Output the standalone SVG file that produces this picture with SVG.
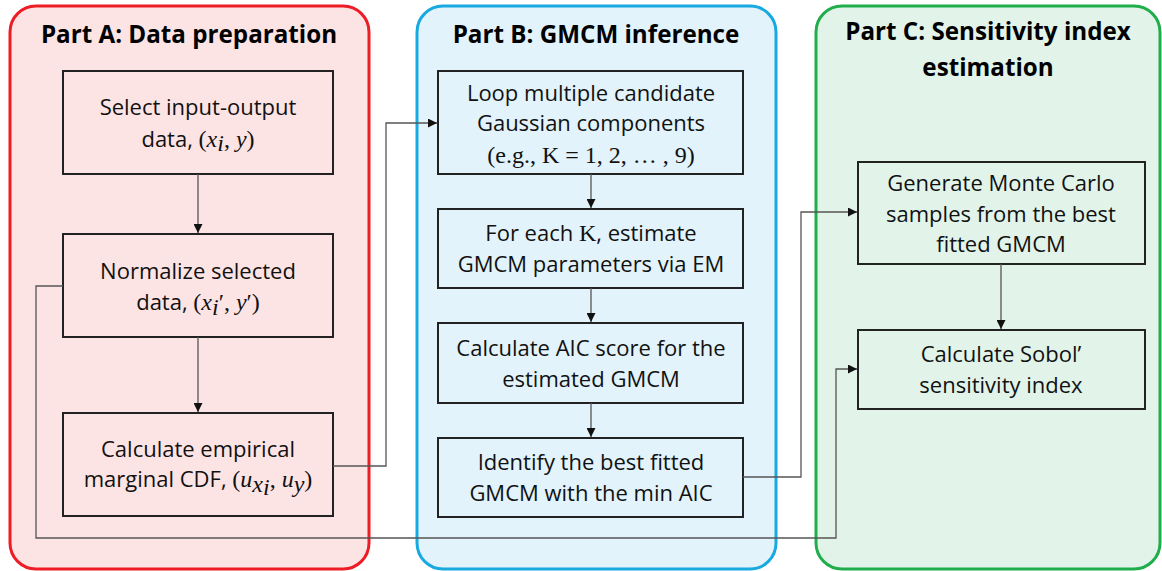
<svg xmlns="http://www.w3.org/2000/svg" width="1162" height="571" viewBox="0 0 1162 571">
<style>
.title{font-family:"Open Sans","Liberation Sans",sans-serif;font-weight:bold;font-size:24.2px;fill:#000;text-anchor:middle}
.lbl{font-family:"Open Sans","Liberation Sans",sans-serif;font-size:22px;fill:#111;text-anchor:middle}
.m{font-family:"Liberation Serif","DejaVu Serif",serif;font-size:24px}
.mi{font-family:"Liberation Serif","DejaVu Serif",serif;font-style:italic;font-size:24px}
.box{stroke:#222;stroke-width:2}
.conn{fill:none;stroke:#555;stroke-width:1.3}
</style>
<defs>
<marker id="ah" viewBox="0 0 10 10" refX="10" refY="5" markerWidth="9" markerHeight="9" markerUnits="userSpaceOnUse" orient="auto">
<path d="M0,0 L10,5 L0,10 Z" fill="#111"/>
</marker>
</defs>

<g id="partA">
<rect x="10" y="6" width="359" height="563" rx="26" fill="#fde4e4" stroke="#ee1c25" stroke-width="3"/>
<text class="title" x="189" y="43">Part A: Data preparation</text>
</g>
<g id="partB">
<rect x="417" y="6" width="359" height="563" rx="26" fill="#e2f3fb" stroke="#18a9e1" stroke-width="3"/>
<text class="title" x="596" y="43">Part B: GMCM inference</text>
</g>
<g id="partC">
<rect x="816" y="6" width="344" height="563" rx="26" fill="#e2f4ea" stroke="#1fae4b" stroke-width="3"/>
<text class="title" x="988" y="40">Part C: Sensitivity index</text>
<text class="title" x="988" y="76">estimation</text>
</g>

<g id="A1">
<rect class="box" x="63" y="71" width="270" height="103" fill="#fde4e4"/>
<text class="lbl" x="198" y="115">Select input-output</text>
<text class="lbl" x="198" y="147">data, <tspan class="m">(</tspan><tspan class="mi">x</tspan><tspan class="mi" font-size="16" dy="4">i</tspan><tspan class="m" dy="-4">, </tspan><tspan class="mi">y</tspan><tspan class="m">)</tspan></text>
</g>
<g id="A2">
<rect class="box" x="63" y="234" width="270" height="103" fill="#fde4e4"/>
<text class="lbl" x="198" y="279">Normalize selected</text>
<text class="lbl" x="198" y="310">data, <tspan class="m">(</tspan><tspan class="mi">x</tspan><tspan class="mi" font-size="16" dy="5">i</tspan><tspan class="m" dy="-5">′, </tspan><tspan class="mi">y</tspan><tspan class="m">′)</tspan></text>
</g>
<g id="A3">
<rect class="box" x="63" y="413" width="270" height="103" fill="#fde4e4"/>
<text class="lbl" x="198" y="457">Calculate empirical</text>
<text class="lbl" x="198" y="487">marginal CDF, <tspan class="m">(</tspan><tspan class="mi">u</tspan><tspan class="mi" font-size="17" dy="5">x</tspan><tspan class="mi" font-size="12" dy="3">i</tspan><tspan class="m" dy="-8">, </tspan><tspan class="mi">u</tspan><tspan class="mi" font-size="17" dy="5">y</tspan><tspan class="m" dy="-5">)</tspan></text>
</g>

<g id="B1">
<rect class="box" x="438" y="71" width="305" height="103" fill="#e2f3fb"/>
<text class="lbl" x="591" y="101">Loop multiple candidate</text>
<text class="lbl" x="591" y="131">Gaussian components</text>
<text class="lbl" x="591" y="163"><tspan class="m">(e.g., K = 1, 2, … , 9)</tspan></text>
</g>
<g id="B2">
<rect class="box" x="438" y="209" width="305" height="79" fill="#e2f3fb"/>
<text class="lbl" x="591" y="241">For each <tspan class="m">K</tspan>, estimate</text>
<text class="lbl" x="591" y="272">GMCM parameters via EM</text>
</g>
<g id="B3">
<rect class="box" x="438" y="323" width="305" height="80" fill="#e2f3fb"/>
<text class="lbl" x="591" y="356">Calculate AIC score for the</text>
<text class="lbl" x="591" y="387">estimated GMCM</text>
</g>
<g id="B4">
<rect class="box" x="438" y="438" width="305" height="79" fill="#e2f3fb"/>
<text class="lbl" x="591" y="470">Identify the best fitted</text>
<text class="lbl" x="591" y="501">GMCM with the min AIC</text>
</g>

<g id="C1">
<rect class="box" x="858" y="162" width="287" height="102" fill="#e2f4ea"/>
<text class="lbl" x="1001" y="191">Generate Monte Carlo</text>
<text class="lbl" x="1001" y="222">samples from the best</text>
<text class="lbl" x="1001" y="252">fitted GMCM</text>
</g>
<g id="C2">
<rect class="box" x="858" y="330" width="287" height="79" fill="#e2f4ea"/>
<text class="lbl" x="1001" y="362">Calculate Sobol’</text>
<text class="lbl" x="1001" y="393">sensitivity index</text>
</g>

<g id="connectors">
<path class="conn" d="M198,174 V233" marker-end="url(#ah)"/>
<path class="conn" d="M198,337 V412" marker-end="url(#ah)"/>
<path class="conn" d="M333,466 H386 V123 H437" marker-end="url(#ah)"/>
<path class="conn" d="M591,174 V208" marker-end="url(#ah)"/>
<path class="conn" d="M591,288 V322" marker-end="url(#ah)"/>
<path class="conn" d="M591,403 V437" marker-end="url(#ah)"/>
<path class="conn" d="M743,477 H801 V212 H857" marker-end="url(#ah)"/>
<path class="conn" d="M1001,264 V329" marker-end="url(#ah)"/>
<path class="conn" d="M63,286 H36 V538 H836 V369 H857" marker-end="url(#ah)"/>
</g>
</svg>
